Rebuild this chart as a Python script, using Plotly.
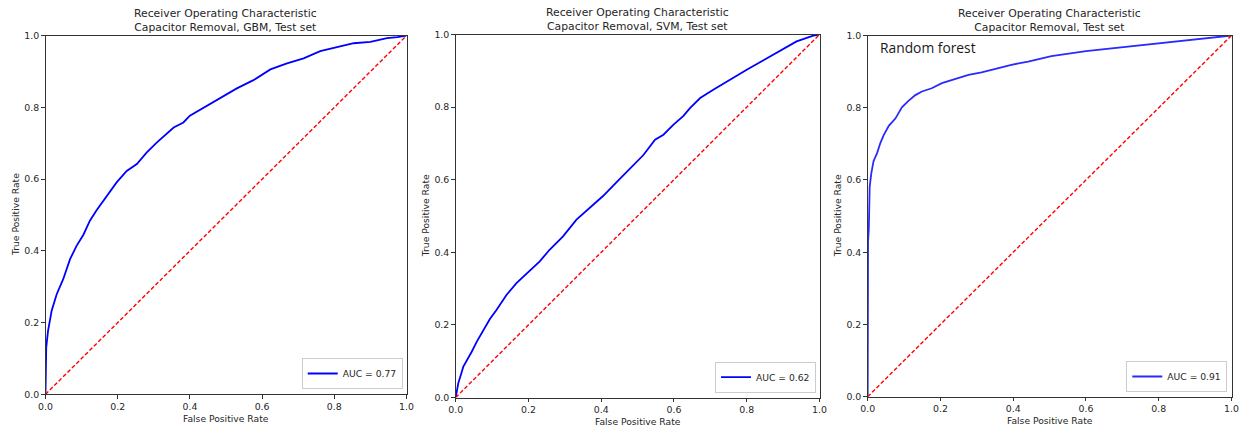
import plotly.graph_objects as go

# ROC curves on the test set, one panel per model
fpr_gbm = [0.0, 0.0, 0.002, 0.007, 0.017, 0.031, 0.049, 0.068, 0.086, 0.105, 0.123, 0.142,
           0.169, 0.197, 0.225, 0.253, 0.280, 0.308, 0.355, 0.382, 0.400, 0.447, 0.484,
           0.530, 0.576, 0.623, 0.669, 0.715, 0.761, 0.808, 0.854, 0.900, 0.946, 0.975, 1.0]
tpr_gbm = [0.0, 0.10, 0.13, 0.177, 0.233, 0.279, 0.321, 0.377, 0.414, 0.445, 0.484, 0.514,
           0.553, 0.591, 0.623, 0.642, 0.674, 0.702, 0.744, 0.758, 0.777, 0.805, 0.828,
           0.853, 0.876, 0.906, 0.923, 0.937, 0.957, 0.969, 0.979, 0.983, 0.993, 0.996, 1.0]

fpr_svm = [0.0, 0.007, 0.021, 0.035, 0.044, 0.058, 0.076, 0.094, 0.112, 0.140, 0.167, 0.204,
           0.231, 0.258, 0.295, 0.332, 0.368, 0.405, 0.441, 0.478, 0.516, 0.548, 0.571,
           0.598, 0.626, 0.644, 0.672, 0.708, 0.754, 0.800, 0.846, 0.891, 0.937, 0.983, 1.0]
tpr_svm = [0.0, 0.039, 0.085, 0.108, 0.126, 0.154, 0.186, 0.216, 0.241, 0.283, 0.315, 0.350,
           0.375, 0.407, 0.444, 0.490, 0.523, 0.555, 0.592, 0.629, 0.668, 0.710, 0.724,
           0.751, 0.776, 0.797, 0.825, 0.848, 0.876, 0.903, 0.929, 0.954, 0.981, 0.997, 1.0]

fpr_rf = [0.0, 0.0, 0.001, 0.003, 0.0055, 0.010, 0.016, 0.026, 0.035, 0.044, 0.058, 0.076,
          0.085, 0.094, 0.112, 0.131, 0.149, 0.176, 0.204, 0.240, 0.277, 0.313, 0.350,
          0.395, 0.441, 0.505, 0.600, 0.700, 0.800, 0.900, 0.950, 1.0]
tpr_rf = [0.0, 0.40, 0.43, 0.462, 0.582, 0.619, 0.652, 0.675, 0.703, 0.724, 0.750, 0.770,
          0.787, 0.801, 0.819, 0.835, 0.845, 0.854, 0.868, 0.880, 0.891, 0.898, 0.907,
          0.919, 0.928, 0.943, 0.957, 0.968, 0.980, 0.990, 0.996, 1.0]

auc_values = [0.77, 0.62, 0.91]
model_titles = ["Capacitor Removal, GBM, Test set",
                "Capacitor Removal, SVM, Test set",
                "Capacitor Removal, Test set"]
main_title = "Receiver Operating Characteristic"
chance_line = [0.0, 1.0]
tick_values = [0.0, 0.2, 0.4, 0.6, 0.8, 1.0]
tick_labels = ["0.0", "0.2", "0.4", "0.6", "0.8", "1.0"]

W, H = 1239, 427
FONT = "DejaVu Sans"
INK = "#262626"


def fx(p):
    return p / W


def fy(p):
    return 1 - p / H


# plot boxes in pixels: left, right, top, bottom
boxes = [(45.5, 406.5, 35.7, 394.3),
         (455.7, 819.5, 34.5, 397.5),
         (867.7, 1231.5, 35.5, 396.7)]
curves = [(fpr_gbm, tpr_gbm, "#0000ff"),
          (fpr_svm, tpr_svm, "#0000ff"),
          (fpr_rf, tpr_rf, "#2a2aff")]
legend_corner = [(402.7, 389.0), (816.0, 392.7), (1227.3, 392.0)]
title_centre = [20.0, 19.3, 20.2]

fig = go.Figure()
annotations = []
layout = dict(
    template="none",
    width=W, height=H,
    margin=dict(l=0, r=0, t=0, b=0, pad=0),
    paper_bgcolor="white", plot_bgcolor="white",
    font=dict(family=FONT, size=9.2, color=INK),
    showlegend=True,
)

for i, ((x0, x1, y0, y1), (fpr, tpr, color)) in enumerate(zip(boxes, curves)):
    n = "" if i == 0 else str(i + 1)
    leg = "legend" + n
    fig.add_trace(go.Scatter(
        x=fpr, y=tpr, mode="lines",
        line=dict(color=color, width=1.8),
        name=f"AUC = {auc_values[i]:.2f}",
        xaxis="x" + n, yaxis="y" + n, legend=leg,
    ))
    fig.add_trace(go.Scatter(
        x=chance_line, y=chance_line, mode="lines",
        line=dict(color="#ff0000", width=1.4, dash="4px,2.2px"),
        showlegend=False, hoverinfo="skip",
        xaxis="x" + n, yaxis="y" + n,
    ))

    axis_common = dict(
        range=[0, 1], tickvals=tick_values, ticktext=tick_labels,
        ticks="outside", ticklen=3.5, tickwidth=0.8, tickcolor="#333333",
        showline=True, mirror=True, linecolor="#333333", linewidth=1,
        showgrid=False, zeroline=False, automargin=False,
        tickfont=dict(family=FONT, size=9.4, color=INK),
        fixedrange=True,
    )
    layout["xaxis" + n] = dict(axis_common, domain=[fx(x0), fx(x1)], anchor="y" + n)
    layout["yaxis" + n] = dict(axis_common, domain=[fy(y1), fy(y0)], anchor="x" + n)

    lx, ly = legend_corner[i]
    layout[leg] = dict(
        x=fx(lx), y=fy(ly), xanchor="right", yanchor="bottom",
        bgcolor="rgba(255,255,255,0.8)", bordercolor="#cccccc", borderwidth=1,
        font=dict(family=FONT, size=9.2, color=INK), itemwidth=30,
    )

    cx = (x0 + x1) / 2
    annotations.append(dict(text=main_title + "<br>" + model_titles[i],
                            x=fx(cx), y=fy(title_centre[i]), xref="paper", yref="paper",
                            xanchor="center", yanchor="middle", showarrow=False, borderpad=0,
                            font=dict(family=FONT, size=10.8, color=INK)))
    # axis titles
    annotations.append(dict(text="False Positive Rate", x=fx(cx), y=fy(y1 + 24.0),
                            xref="paper", yref="paper", xanchor="center", yanchor="middle",
                            showarrow=False, font=dict(family=FONT, size=9.2, color=INK)))
    annotations.append(dict(text="True Positive Rate", x=fx(x0 - 30.5), y=fy((y0 + y1) / 2),
                            xref="paper", yref="paper", xanchor="center", yanchor="middle",
                            textangle=-90, showarrow=False,
                            font=dict(family=FONT, size=9.2, color=INK)))

annotations.append(dict(text="Random forest", x=fx(878.0), y=fy(47.0), xref="paper", yref="paper",
                        xanchor="left", yanchor="middle", showarrow=False,
                        font=dict(family="Open Sans", size=13.8, color="#1a1a1a")))

layout["annotations"] = annotations
fig.update_layout(**layout)
fig.write_html("out.html")
